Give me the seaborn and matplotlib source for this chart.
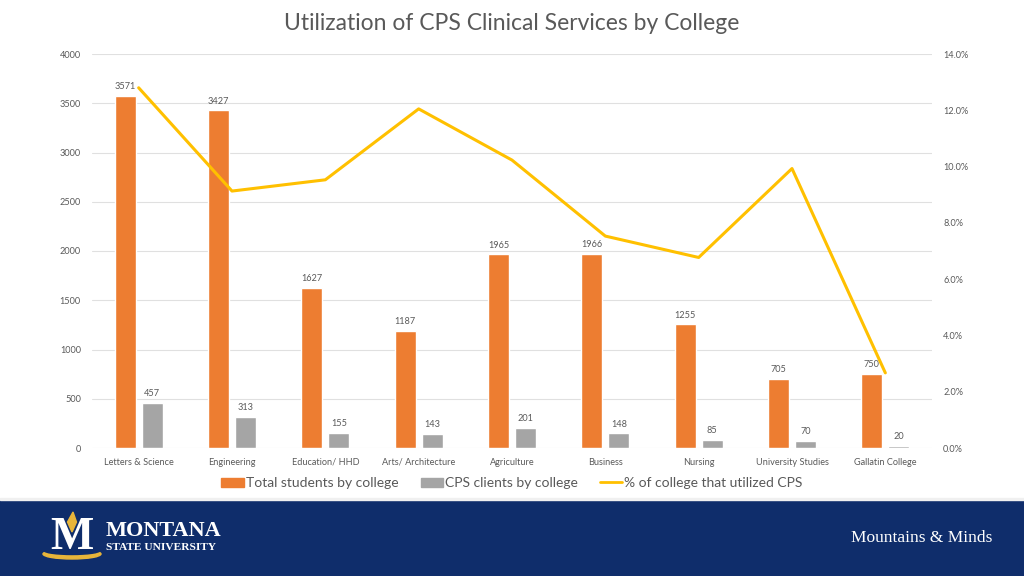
import numpy as np
import pandas as pd
import matplotlib
matplotlib.use("Agg")
import matplotlib.pyplot as plt
import seaborn as sns
from matplotlib.patches import Patch, Rectangle, Ellipse, Polygon
from matplotlib.lines import Line2D
from matplotlib.ticker import FuncFormatter, MultipleLocator

colleges = ["Letters & Science", "Engineering", "Education/ HHD", "Arts/ Architecture",
            "Agriculture", "Business", "Nursing", "University Studies", "Gallatin College"]
total_students = [3571, 3427, 1627, 1187, 1965, 1966, 1255, 705, 750]
cps_clients = [457, 313, 155, 143, 201, 148, 85, 70, 20]
pct_utilized = [12.8, 9.13, 9.53, 12.05, 10.23, 7.53, 6.77, 9.93, 2.67]

series_names = ["Total students by college", "CPS clients by college", "% of college that utilized CPS"]
ORANGE = "#ED7D31"
GRAY = "#A5A5A5"
YELLOW = "#FFC000"
TXT = "#595959"
NAVY = "#0F2D6B"
GOLD = "#E8B53A"

sns.set_theme(style="white")
plt.rcParams["font.family"] = ["Lato", "DejaVu Sans"]

df = pd.DataFrame({
    "College": colleges * 2,
    "Series": [series_names[0]] * len(colleges) + [series_names[1]] * len(colleges),
    "Value": total_students + cps_clients,
})

W, H = 1024, 576
fig = plt.figure(figsize=(W / 100, H / 100), dpi=100)
ax = fig.add_axes([92 / W, 1 - 448 / H, 840 / W, 394 / H])

sns.barplot(data=df, x="College", y="Value", hue="Series", order=colleges,
            hue_order=series_names[:2], palette=[ORANGE, GRAY], width=0.58, gap=0.22,
            ax=ax, legend=False, saturation=1, zorder=2)
ax.set_xlim(-0.5, len(colleges) - 0.5)
ax.set_ylim(0, 4000)
ax.yaxis.set_major_locator(MultipleLocator(500))
ax.grid(axis="y", color="#E0E0E0", lw=0.8, zorder=0)
ax.set_axisbelow(True)
for s in ax.spines.values():
    s.set_visible(False)
ax.set_xlabel("")
ax.set_ylabel("")
ax.tick_params(axis="y", length=0, labelsize=6.6, labelcolor=TXT, pad=8)
ax.tick_params(axis="x", length=0, labelsize=6.6, labelcolor=TXT, pad=7)
for c in ax.containers:
    ax.bar_label(c, padding=3.5, fontsize=6.6, color=TXT)

ax2 = ax.twinx()
sns.lineplot(x=np.arange(len(colleges)), y=pct_utilized, ax=ax2, color=YELLOW, lw=2.2, zorder=5)
ax2.set_ylim(0, 14)
ax2.yaxis.set_major_locator(MultipleLocator(2))
ax2.yaxis.set_major_formatter(FuncFormatter(lambda v, p: f"{v:.1f}%"))
ax2.tick_params(axis="y", length=0, labelsize=6.6, labelcolor=TXT, pad=8)
for s in ax2.spines.values():
    s.set_visible(False)
ax2.set_ylabel("")
ax2.grid(False)

fig.text(0.5, 1 - 23 / H, "Utilization of CPS Clinical Services by College",
         ha="center", va="center", fontsize=16.5, color=TXT)

handles = [Patch(color=ORANGE), Patch(color=GRAY), Line2D([0], [0], color=YELLOW, lw=2)]
fig.legend(handles, series_names, loc="center", bbox_to_anchor=(0.5, 1 - 483 / H), ncol=3,
           frameon=False, fontsize=10, labelcolor=TXT, handlelength=1.6, handleheight=0.6,
           handletextpad=0.15, columnspacing=1.6)

# footer banner
fig.patches.append(Rectangle((0, 0), 1, 76 / H, transform=fig.transFigure, color=NAVY, zorder=0))
fig.patches.append(Rectangle((0, 76 / H), 1, 2 / H, transform=fig.transFigure, color="#F0F0F0", zorder=0))

def fx(x):
    return x / W

def fy(y):
    return 1 - y / H

# logo
fig.patches.append(Ellipse((fx(72), fy(554)), 58 / W, 10 / H, transform=fig.transFigure,
                           color=GOLD, zorder=1))
fig.patches.append(Ellipse((fx(72), fy(550.5)), 56 / W, 8 / H, transform=fig.transFigure,
                           color=NAVY, zorder=1))
fig.text(fx(72), fy(538), "M", ha="center", va="center", fontsize=33, fontweight="bold",
         color="white", family=["Liberation Serif", "DejaVu Serif"], zorder=2)
fig.patches.append(Polygon([(fx(73), fy(512)), (fx(76.5), fy(522)), (fx(72), fy(532)), (fx(67.5), fy(522))],
                           closed=True, transform=fig.transFigure, color=GOLD, zorder=3))
fig.text(fx(106), fy(530.5), "MONTANA", ha="left", va="center", fontsize=16, fontweight="bold",
         color="white", family=["Liberation Serif", "DejaVu Serif"])
fig.text(fx(106), fy(547.5), "STATE UNIVERSITY", ha="left", va="center", fontsize=8.2,
         fontweight="bold", color="white", family=["Liberation Serif", "DejaVu Serif"])
fig.text(fx(992), fy(538), "Mountains & Minds", ha="right", va="center", fontsize=12.5,
         color="white", family=["Liberation Serif", "DejaVu Serif"])

fig.savefig("out.png", dpi=100)
